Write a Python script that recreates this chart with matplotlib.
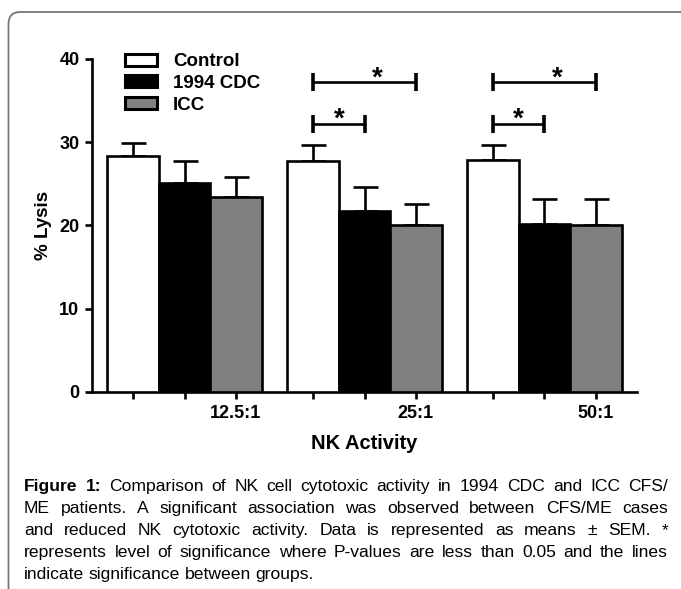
import matplotlib.pyplot as plt
import numpy as np
from matplotlib.patches import FancyBboxPatch, Patch

# Dados
grupos = ['12.5:1', '25:1', '50:1']
series = ['Control', '1994 CDC', 'ICC']
control = [28.3, 27.7, 27.9]
control_err = [1.6, 2.0, 1.8]
cdc = [25.1, 21.7, 20.2]
cdc_err = [2.6, 2.9, 3.0]
icc = [23.4, 20.0, 20.0]
icc_err = [2.4, 2.6, 3.2]
cores = ['white', 'black', '#808080']

# colchetes de significância: (grupo, barra inicial, barra final, altura)
colchetes = [(1, 0, 1, 32.2), (1, 0, 2, 37.2), (2, 0, 1, 32.2), (2, 0, 2, 37.2)]

legenda_txt = ("Figure 1:", " Comparison of NK cell cytotoxic activity in 1994 CDC and ICC CFS/")
linhas = [
    "ME patients. A significant association was observed between CFS/ME cases",
    "and reduced NK cytotoxic activity. Data is represented as means \u00b1 SEM. *",
    "represents level of significance where P-values are less than 0.05 and the lines",
    "indicate significance between groups.",
]

plt.rcParams['font.family'] = ['Liberation Sans', 'DejaVu Sans']

fig = plt.figure(figsize=(6.81, 5.89), dpi=100)
ax = fig.add_axes([92/681, 1-392/589, 545/681, 333/589])

# moldura arredondada
moldura = FancyBboxPatch((0.085, -1.0), 9.0, 6.77,
                         boxstyle="round,pad=0,rounding_size=0.12",
                         transform=fig.dpi_scale_trans, facecolor='none',
                         edgecolor='#777777', linewidth=1.3, clip_on=False)
fig.patches.append(moldura)

passo = 3.5
valores = [control, cdc, icc]
erros = [control_err, cdc_err, icc_err]
for i in range(3):
    xs = np.arange(3) * passo + i
    ax.bar(xs, valores[i], width=1.0, color=cores[i], edgecolor='black',
           linewidth=1.9, zorder=3)
    ax.errorbar(xs, valores[i], yerr=[np.zeros(3), erros[i]], fmt='none',
                ecolor='black', elinewidth=1.9, capsize=9, capthick=1.9, zorder=2)

for g, a, b, h in colchetes:
    x0 = g * passo + a
    x1 = g * passo + b
    ax.plot([x0, x1], [h, h], color='black', lw=1.9, solid_capstyle='butt')
    ax.plot([x0, x0], [h - 1.1, h + 1.1], color='black', lw=2.6, solid_capstyle='butt')
    ax.plot([x1, x1], [h - 1.1, h + 1.1], color='black', lw=2.6, solid_capstyle='butt')
    if b == 1:
        xe = (x0 + x1) / 2
    else:
        xe = (x0 + x1) / 2 + 0.25
    ax.text(xe, h - 0.35, '*', ha='center', va='baseline', fontsize=20,
            fontweight='bold')

ax.set_xlim(-0.8, 2 * passo + 2.8)
ax.set_ylim(0, 40)
ax.set_yticks([0, 10, 20, 30, 40])
posicoes = [g * passo + i for g in range(3) for i in range(3)]
rotulos = []
for g in range(3):
    rotulos += ['', '', grupos[g]]
ax.set_xticks(posicoes)
ax.set_xticklabels(rotulos)

for s in ['top', 'right']:
    ax.spines[s].set_visible(False)
for s in ['left', 'bottom']:
    ax.spines[s].set_linewidth(1.9)
ax.tick_params(axis='both', width=1.9, length=5, labelsize=13, pad=4)
for t in ax.get_xticklabels() + ax.get_yticklabels():
    t.set_fontweight('bold')

ax.set_ylabel('% Lysis', fontsize=13.5, fontweight='bold', labelpad=5)
ax.set_xlabel('NK Activity', fontsize=14.5, fontweight='bold', labelpad=9)

handles = [Patch(facecolor=cores[i], edgecolor='black', linewidth=2.2,
                 joinstyle='round') for i in range(3)]
ax.legend(handles, series, loc='upper left', bbox_to_anchor=(0.03, 1.068),
          frameon=False, prop={'weight': 'bold', 'size': 13.5},
          handlelength=1.7, handleheight=0.6, labelspacing=0.25, handletextpad=0.85)

# legenda da figura, justificada
fonte_leg = ['Liberation Sans', 'DejaVu Sans']
esq, dir_ = 24, 668
y0 = 589 - 491
passo_linha = 22
renderer = fig.canvas.get_renderer()


def linha_justificada(palavras, y, justificar=True):
    objs = []
    for p, peso in palavras:
        t = fig.text(0, y / 589, p, fontsize=12.6, family=fonte_leg,
                     fontweight=peso, va='baseline', ha='left')
        objs.append(t)
    larguras = [o.get_window_extent(renderer).width for o in objs]
    n = len(objs)
    espaco = 4.5
    if justificar and n > 1:
        espaco = max(2.0, (dir_ - esq - sum(larguras)) / (n - 1))
    x = esq
    for o, w in zip(objs, larguras):
        o.set_x(x / 681)
        x += w + espaco


primeira = [('Figure', 'bold'), ('1:', 'bold')] + [(p, 'normal') for p in legenda_txt[1].split()]
linha_justificada(primeira, y0)
for k, l in enumerate(linhas):
    linha_justificada([(p, 'normal') for p in l.split()], y0 - (k + 1) * passo_linha,
                      justificar=(k < len(linhas) - 1))

fig.savefig('out.png', dpi=100)
